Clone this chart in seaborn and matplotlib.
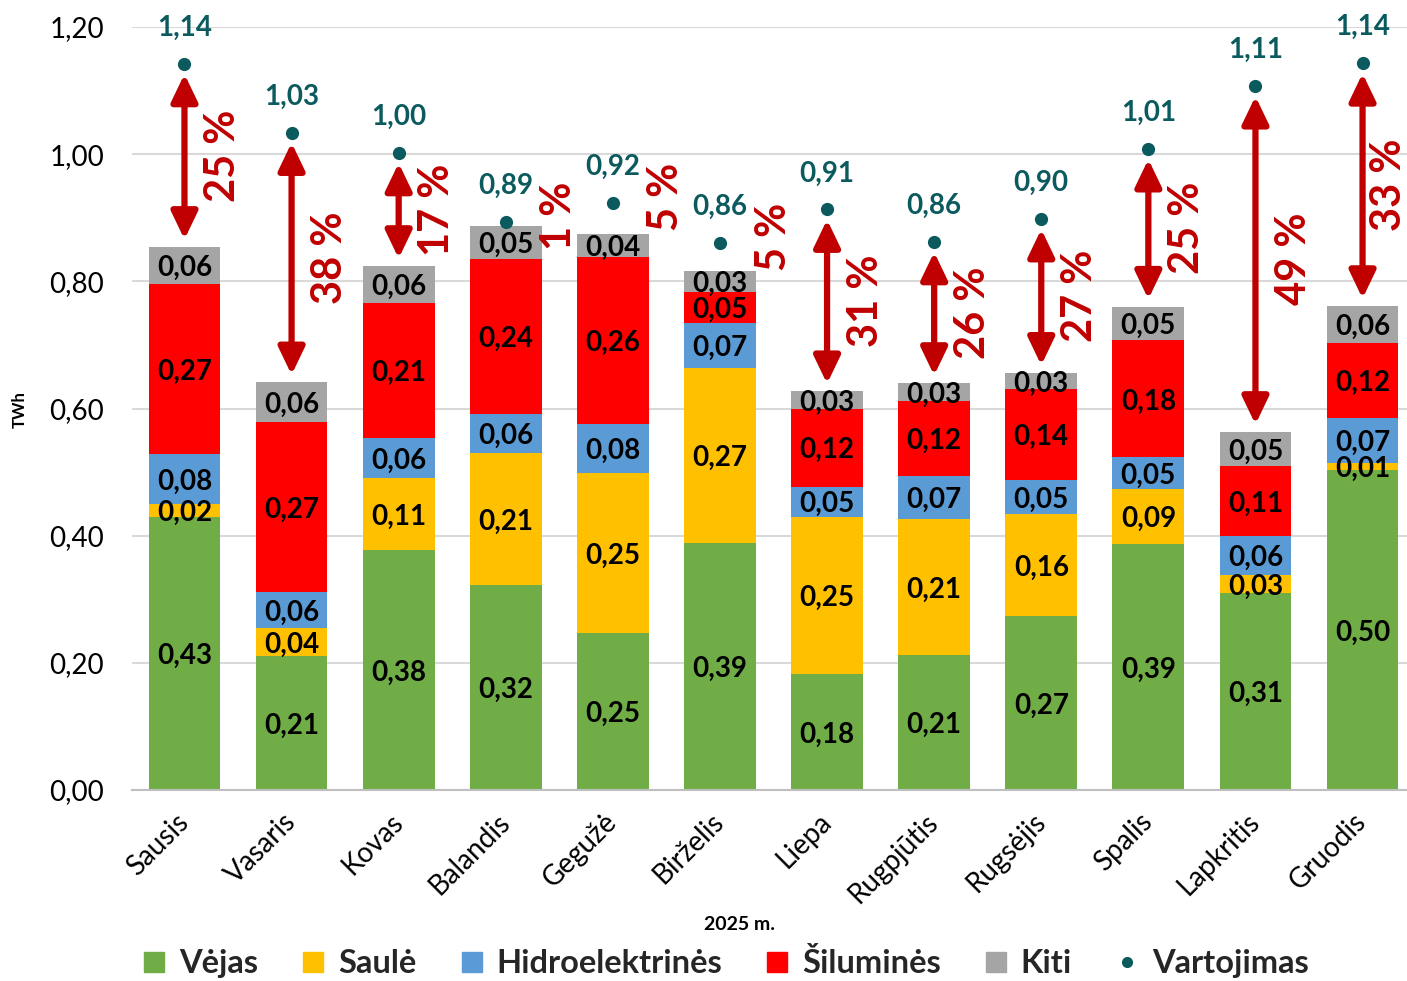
import numpy as np
import pandas as pd
import matplotlib
matplotlib.use("Agg")
import matplotlib.pyplot as plt
import seaborn as sns
from matplotlib.lines import Line2D
from matplotlib.ticker import FuncFormatter

months = ["Sausis", "Vasaris", "Kovas", "Balandis", "Gegužė", "Birželis",
          "Liepa", "Rugpjūtis", "Rugsėjis", "Spalis", "Lapkritis", "Gruodis"]
vejas = [0.430, 0.211, 0.378, 0.323, 0.247, 0.389, 0.183, 0.213, 0.273, 0.387, 0.310, 0.503]
saule = [0.020, 0.043, 0.112, 0.207, 0.252, 0.274, 0.247, 0.213, 0.161, 0.087, 0.028, 0.011]
hidro = [0.078, 0.057, 0.063, 0.061, 0.076, 0.072, 0.047, 0.068, 0.054, 0.049, 0.061, 0.071]
silumines = [0.268, 0.268, 0.213, 0.244, 0.264, 0.048, 0.123, 0.118, 0.142, 0.184, 0.110, 0.118]
kiti = [0.058, 0.062, 0.058, 0.052, 0.036, 0.033, 0.027, 0.028, 0.026, 0.053, 0.054, 0.058]
vartojimas = [1.142, 1.034, 1.002, 0.893, 0.923, 0.860, 0.913, 0.862, 0.898, 1.008, 1.107, 1.143]
deficit_pct = [25, 38, 17, 1, 5, 5, 31, 26, 27, 25, 49, 33]

series_names = ["Vėjas", "Saulė", "Hidroelektrinės", "Šiluminės", "Kiti"]
series_vals = [vejas, saule, hidro, silumines, kiti]
colors = ["#70AD47", "#FFC000", "#5B9BD5", "#FF0000", "#A5A5A5"]
dot_color = "#0B5A5E"
arrow_color = "#C00000"

sns.set_theme(style="white")
plt.rcParams["font.family"] = ["Lato", "DejaVu Sans"]

df = pd.DataFrame(dict(zip(series_names, series_vals)), index=months)
cum = df.cumsum(axis=1)
df_plot = cum.reset_index().rename(columns={"index": "Mėnuo"})

fig = plt.figure(figsize=(14.07, 9.81), dpi=100)
ax = fig.add_axes([132 / 1407, 191 / 981, 1275 / 1407, 763 / 981])

bar_w = 0.67
for name, col in reversed(list(zip(series_names, colors))):
    sns.barplot(data=df_plot, x="Mėnuo", y=name, color=col, saturation=1,
                width=bar_w, errorbar=None, linewidth=0, ax=ax, order=months)

sns.stripplot(x=months, y=vartojimas, color=dot_color, size=9.5, jitter=False,
              ax=ax, order=months, zorder=5)

ax.set_ylim(0, 1.2)
ax.set_xlim(-0.49, 11.415)
ax.set_yticks(np.arange(0, 1.21, 0.2))
ax.yaxis.set_major_formatter(FuncFormatter(lambda v, p: f"{v:.2f}".replace(".", ",")))
ax.grid(axis="y", color="#D9D9D9", linewidth=1.5)
ax.set_axisbelow(True)
for s in ["top", "right", "left"]:
    ax.spines[s].set_visible(False)
ax.spines["bottom"].set_color("#BFBFBF")
ax.spines["bottom"].set_linewidth(1.5)
ax.tick_params(axis="y", length=0, pad=20, labelsize=20, labelcolor="black")
ax.tick_params(axis="x", length=0, pad=20, labelsize=20, labelcolor="black")
ax.set_xlabel("")
ax.set_ylabel("")
plt.setp(ax.get_xticklabels(), rotation=45, ha="right", va="center",
         rotation_mode="anchor")

# segment labels
for i, m in enumerate(months):
    base = 0.0
    for name in series_names:
        v = df.loc[m, name]
        ax.text(i, base + v / 2 - 0.004, f"{v:.2f}".replace(".", ","), ha="center",
                va="center", fontsize=20, fontweight="bold", color="black", zorder=6)
        base += v

# consumption labels, arrows and percentages
totals = cum[series_names[-1]].values
for i, m in enumerate(months):
    c = vartojimas[i]
    t = totals[i]
    ax.annotate(f"{c:.2f}".replace(".", ","), xy=(i, c), xytext=(0, 26),
                textcoords="offset points", ha="center", va="center",
                fontsize=20, fontweight="bold", color=dot_color,
                annotation_clip=False)
    pct = f"{deficit_pct[i]} %"
    if c - t > 0.08:
        ax.annotate("", xy=(i, c - 0.016), xytext=(i, t + 0.012),
                    arrowprops=dict(arrowstyle="<|-|>,head_length=0.75,head_width=0.36",
                                    mutation_scale=22, lw=4.5, color=arrow_color,
                                    shrinkA=0, shrinkB=0), zorder=4)
        xt = min(i + 0.36, 11.415 - 0.17)
        ax.text(xt, (c + t) / 2, pct, rotation=90, ha="center", va="center",
                fontsize=30, fontweight="bold", color=arrow_color, zorder=6)
    else:
        ax.text(i + 0.5, c + 0.01, pct, rotation=90, ha="center", va="center",
                fontsize=30, fontweight="bold", color=arrow_color, zorder=6)

fig.text(20 / 1407, 1 - 410 / 981, "TWh", rotation=90, ha="center", va="center",
         fontsize=12, fontweight="bold", color="black")
fig.text(740 / 1407, 1 - 925 / 981, "2025 m.", ha="center", va="center",
         fontsize=14, fontweight="bold", color="black")

handles = [Line2D([], [], marker="s", linestyle="none", markersize=15,
                  markerfacecolor=c, markeredgecolor=c) for c in colors]
handles.append(Line2D([], [], marker="o", linestyle="none", markersize=7,
                      markerfacecolor=dot_color, markeredgecolor=dot_color))
labels = series_names + ["Vartojimas"]
leg = fig.legend(handles, labels, loc="center", bbox_to_anchor=(725 / 1407, 1 - 963 / 981),
                 ncol=6, frameon=False, handlelength=0.8, handletextpad=0.35,
                 columnspacing=1.3, prop={"size": 23.5, "weight": "bold"})

fig.savefig("out.png", dpi=100)
